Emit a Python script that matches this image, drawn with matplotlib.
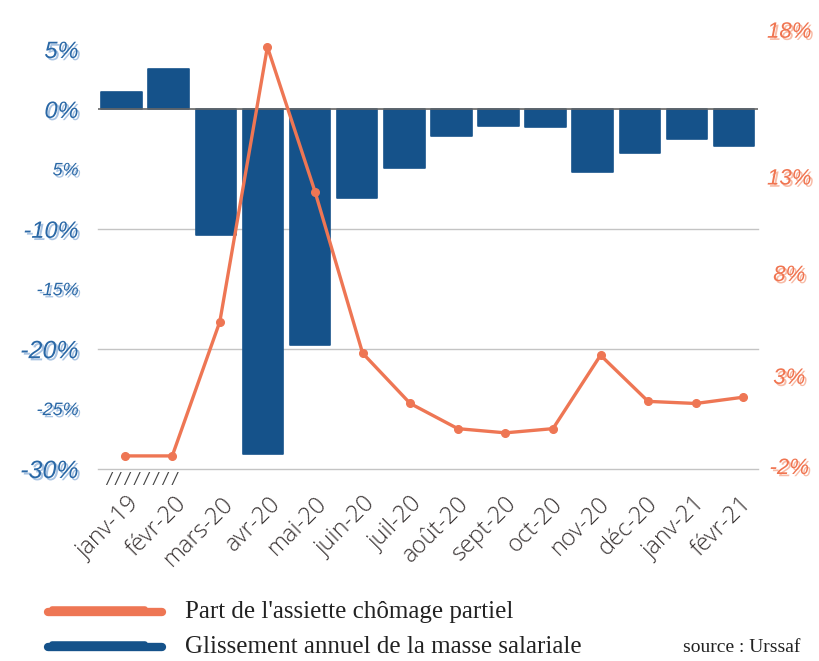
import matplotlib.pyplot as plt
import matplotlib.patheffects as pe
import matplotlib.transforms as mtrans
import numpy as np

months = ['janv-19', 'févr-20', 'mars-20', 'avr-20', 'mai-20', 'juin-20', 'juil-20',
          'août-20', 'sept-20', 'oct-20', 'nov-20', 'déc-20', 'janv-21', 'févr-21']
# glissement annuel de la masse salariale (%)
masse = [1.4, 3.3, -10.5, -28.8, -19.7, -7.4, -4.9, -2.25, -1.4, -1.5, -5.25, -3.7, -2.5, -3.1]
# part de l'assiette chômage partiel (%)
chomage = [-1.4, -1.4, 5.0, 18.1, 11.2, 3.5, 1.1, -0.1, -0.3, -0.1, 3.4, 1.2, 1.1, 1.4]

left_ticks = [5, 0, -5, -10, -15, -20, -25, -30]
left_labels = ['5%', '0%', '5%', '-10%', '-15%', '-20%', '-25%', '-30%']
left_sizes = [17, 17, 13, 17, 13, 18, 13, 18]
right_ticks = [-2, 2.3, 7.2, 11.8, 18.8]
right_labels = ['-2%', '3%', '8%', '13%', '18%']

blue = '#15528a'
orange = '#ee7654'

fig = plt.figure(figsize=(8.19, 6.61), dpi=100)
pos = [98 / 819, 1 - 468.5 / 661, 659.6 / 819, 419.5 / 661]
ax = fig.add_axes(pos)
x = np.arange(len(months))

ax.bar(x, masse, width=0.86, color=blue, edgecolor=blue, linewidth=1.2, joinstyle='round', zorder=2)
for g in [-10, -20, -30]:
    ax.axhline(g, color='#c4c4c4', lw=1, zorder=0, clip_on=False)
ax.axhline(0, color='#666666', lw=1.2, zorder=3)
ax.set_xlim(-0.5, len(months) - 0.5)
for s in ax.spines.values():
    s.set_visible(False)
ax.set_yticks(left_ticks, labels=left_labels)
ax.set_ylim(-30, 5)
ax.tick_params(axis='y', length=0, pad=14)
for lab, sz in zip(ax.get_yticklabels(), left_sizes):
    lab.set_fontsize(sz)
    lab.set_fontstyle('italic')
    lab.set_family('Liberation Sans')
    lab.set_color('#2a68a6')
    lab.set_path_effects([pe.withSimplePatchShadow(offset=(1.6, -1.6), shadow_rgbFace='#a8c3e2', alpha=1)])

ax.set_xticks(x, labels=months)
ax.tick_params(axis='x', length=0, pad=23)
shift = mtrans.ScaledTranslation(10 / 72, 0, fig.dpi_scale_trans)
for lab in ax.get_xticklabels():
    lab.set_rotation(45)
    lab.set_ha('right')
    lab.set_va('center')
    lab.set_rotation_mode('anchor')
    lab.set_fontsize(17)
    lab.set_family('Open Sans')
    lab.set_color('#3a3434')
    lab.set_fontweight('light')
    lab.set_transform(lab.get_transform() + shift)

# axis break marks under the first two bars
ax.text(0.012, -0.008, ' '.join(['/'] * 8), transform=ax.transAxes, fontsize=10.5, color='#444444',
        fontstyle='italic', va='top', ha='left')

# secondary axis for the line
ax2 = fig.add_axes(pos, frameon=False)
ax2.plot(x, chomage, color=orange, lw=2.4, marker='o', markersize=5.5, zorder=4, clip_on=False)
ax2.set_xlim(-0.56, 13.3)
ax2.set_ylim(-2, 18)
ax2.set_xticks([])
ax2.set_yticks([])
ytrans = mtrans.blended_transform_factory(ax2.transAxes, ax2.transData)
for t, l in zip(right_ticks, right_labels):
    ax2.text(1.048, t, l, transform=ytrans, fontsize=16, fontstyle='italic', family='Liberation Sans',
             color='#f07450', ha='center', va='center', clip_on=False,
             path_effects=[pe.withSimplePatchShadow(offset=(1.6, -1.6), shadow_rgbFace='#f8bba6', alpha=1)])

# legend with brush-like strokes
def brush(y, color):
    fig.add_artist(plt.Line2D([48 / 819, 162 / 819], [y, y], transform=fig.transFigure, color=color,
                              lw=6, solid_capstyle='round'))
    fig.add_artist(plt.Line2D([52 / 819, 145 / 819], [y + 0.004] * 2, transform=fig.transFigure,
                              color=color, lw=4, solid_capstyle='round'))

brush(1 - 612 / 661, orange)
brush(1 - 647 / 661, blue)
fig.text(185 / 819, 1 - 612 / 661, "Part de l'assiette chômage partiel", fontsize=18,
         family='Liberation Serif', color='#222222', va='center')
fig.text(185 / 819, 1 - 647 / 661, 'Glissement annuel de la masse salariale', fontsize=18,
         family='Liberation Serif', color='#222222', va='center')
fig.text(800 / 819, 1 - 648 / 661, 'source : Urssaf', fontsize=14,
         family='Liberation Serif', color='#222222', va='center', ha='right')

fig.savefig('out.png', dpi=100)
